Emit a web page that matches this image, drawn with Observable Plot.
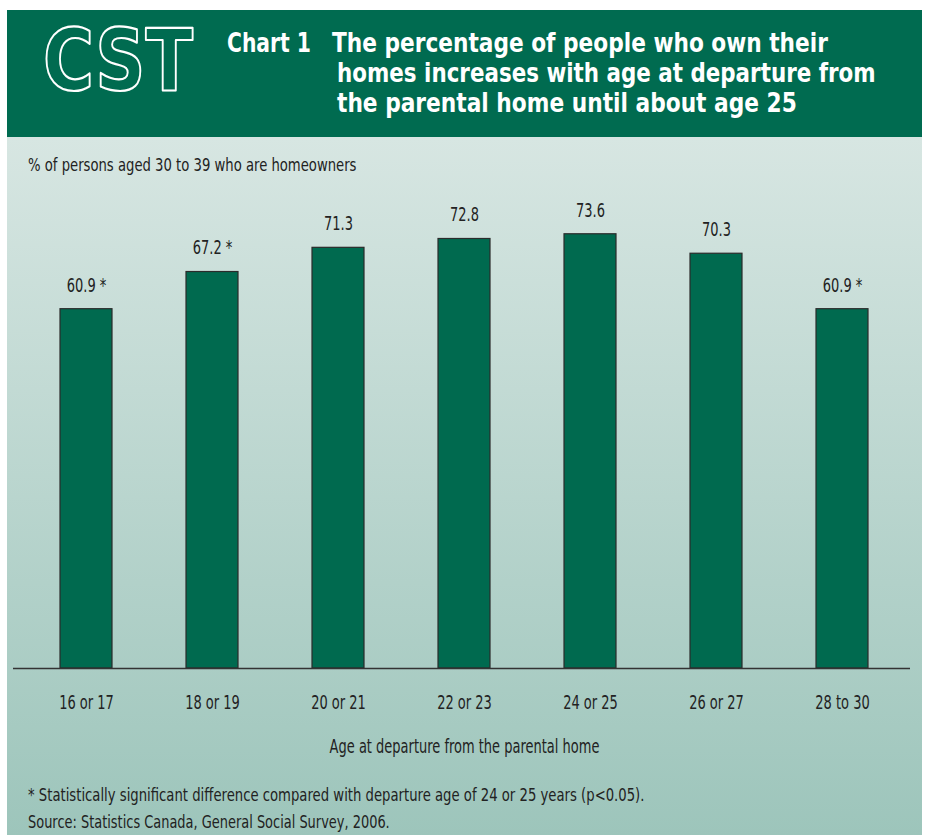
<!DOCTYPE html>
<html>
<head>
<meta charset="utf-8">
<script src="https://cdn.jsdelivr.net/npm/d3@7"></script>
<script src="https://cdn.jsdelivr.net/npm/@observablehq/plot@0.6"></script>
<style>
  body { margin: 0; background: #fff; width: 928px; height: 835px; overflow: hidden; position: relative;
         font-family: "DejaVu Sans", sans-serif; }
  #header { position: absolute; left: 7px; top: 10px; width: 915px; height: 127px; background: #006b50; }
  #panel { position: absolute; left: 7px; top: 137px; width: 915px; height: 698px;
           background: linear-gradient(#d7e6e2, #9dc5bb); }
  #chart { position: absolute; left: 0; top: 43px; }
  #overlay { position: absolute; left: 0; top: 0; pointer-events: none; }
</style>
</head>
<body>
<div id="header"></div>
<div id="panel"><div id="chart"></div></div>
<svg id="overlay" width="928" height="835" xmlns="http://www.w3.org/2000/svg">
  <g font-family="'DejaVu Sans', sans-serif">
    <text data-x="43" data-y="90" data-w="150" font-weight="bold" font-size="85"
          fill="none" stroke="#fff" stroke-width="2.2" stroke-linejoin="round">CST</text>
    <g fill="#fff" font-weight="bold" font-size="26">
      <text data-x="227" data-y="52" data-w="84">Chart 1</text>
      <text data-x="332" data-y="52" data-w="496">The percentage of people who own their</text>
      <text data-x="337" data-y="82" data-w="539">homes increases with age at departure from</text>
      <text data-x="337" data-y="112" data-w="460">the parental home until about age 25</text>
    </g>
    <g fill="#222" font-size="18">
      <text data-x="28" data-y="171" data-w="329">% of persons aged 30 to 39 who are homeowners</text>
      <text data-x="28" data-y="801" data-w="617">* Statistically significant difference compared with departure age of 24 or 25 years (p&lt;0.05).</text>
      <text data-x="28" data-y="828" data-w="362">Source: Statistics Canada, General Social Survey, 2006.</text>
    </g>
  </g>
</svg>
<script>
// Homeownership among people aged 30 to 39, by age at leaving the parental home
const ages = ["16 or 17", "18 or 19", "20 or 21", "22 or 23", "24 or 25", "26 or 27", "28 to 30"];
const shares = [60.9, 67.2, 71.3, 72.8, 73.6, 70.3, 60.9];
const significant = [true, true, false, false, false, false, true];

const rows = ages.map((age, i) => ({ age, share: shares[i], sig: significant[i] }));

const chart = Plot.plot({
  width: 915,
  height: 580,
  marginLeft: 16,
  marginRight: 17,
  marginTop: 16,
  marginBottom: 92,
  style: { background: "transparent", fontFamily: "'DejaVu Sans', sans-serif", fontSize: "20px", color: "#222", overflow: "visible" },
  x: { domain: ages, paddingInner: 0.587, paddingOuter: 0.2935, label: null },
  y: { domain: [0, 80], axis: null },
  marks: [
    Plot.barY(rows, { x: "age", y: "share", fill: "#006a4f", stroke: "#2b2b2b", strokeWidth: 1.2 }),
    Plot.ruleY([0], { stroke: "#333", strokeWidth: 1.5, insetLeft: -10, insetRight: -5 }),
    Plot.text(rows, {
      x: "age", y: "share",
      text: d => d.share.toFixed(1) + (d.sig ? " *" : ""),
      dy: -24, fontSize: 20, fill: "#222"
    }),
    Plot.axisX({
      tickSize: 0, tickPadding: 26, fontSize: 20, fill: "#222",
      label: "Age at departure from the parental home",
      labelAnchor: "center", labelArrow: "none", labelOffset: 84
    })
  ]
});
document.getElementById("chart").appendChild(chart);

// Narrow the chart's labels to a condensed set width
chart.querySelectorAll("text").forEach(t => {
  const w = t.getComputedTextLength();
  if (w > 0) {
    t.setAttribute("textLength", (w * 0.65).toFixed(1));
    t.setAttribute("lengthAdjust", "spacingAndGlyphs");
  }
});

// Header, axis note and footnotes: squeeze each line horizontally to its set width
document.querySelectorAll("#overlay text[data-w]").forEach(t => {
  const w = t.getComputedTextLength();
  const s = +t.dataset.w / w;
  t.setAttribute("transform", `translate(${t.dataset.x},${t.dataset.y}) scale(${s.toFixed(4)},1)`);
});
</script>
</body>
</html>
